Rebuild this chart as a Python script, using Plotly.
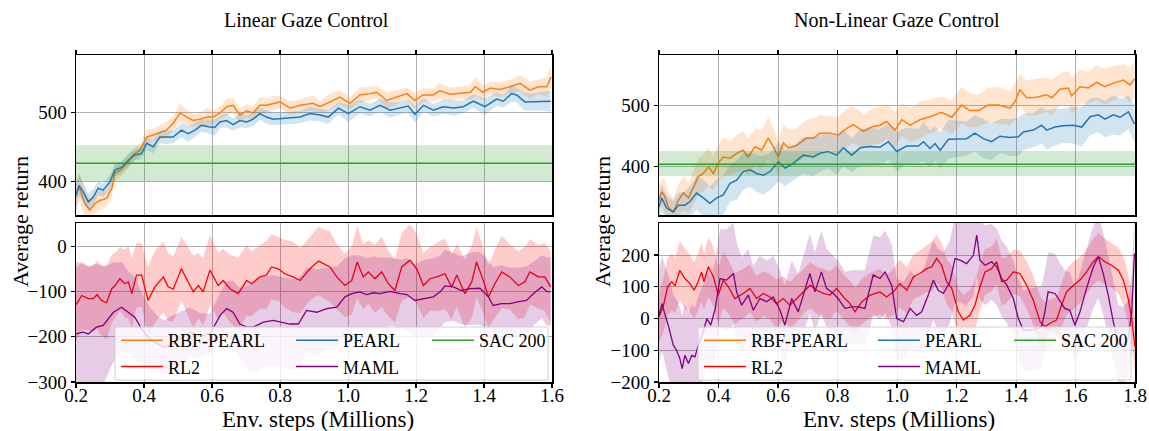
import plotly.graph_objects as go

# ---------------- data ----------------
# Linear Gaze Control, top panel
lo_x = [0.200,0.209,0.226,0.241,0.256,0.270,0.290,0.306,0.315,0.330,
        0.350,0.368,0.388,0.408,0.427,0.447,0.466,0.486,0.506,0.526,
        0.545,0.565,0.585,0.604,0.624,0.643,0.662,0.682,0.702,0.720,
        0.741,0.760,0.780,
        0.800,0.830,0.860,0.897,0.918,0.947,0.976,1.006,1.035,1.065,
        1.085,1.114,1.144,1.173,1.197,1.220,1.250,1.270,1.300,1.330,
        1.360,1.374,1.397,1.418,1.447,1.476,1.506,1.535,1.560,1.585,
        1.597]
lo_y = [377,392,368,358,368,372,375,391,412,416,
        426,438,445,464,467,471,474,484,499,493,
        488,490,493,493,499,508,510,496,502,499,
        510,510,513,
        515,506,510,513,508,515,522,513,525,527,
        529,517,522,527,517,525,525,531,526,528,
        529,537,529,535,533,537,542,532,537,537,
        551]
lo_s = [22,20,18,16,15,14,12,12,11,10,
        10,9,10,11,9,10,12,10,14,11,
        9,10,13,10,9,12,11,9,10,9,
        12,10,11,
        9,10,9,11,9,12,10,9,11,10,
        9,12,10,9,11,10,9,12,10,9,
        11,14,10,9,11,10,12,13,10,15,
        16]

lb_x = [0.200,0.209,0.221,0.236,0.251,0.265,0.280,0.300,0.314,0.334,
        0.353,0.373,0.393,0.408,0.427,0.447,0.466,0.486,0.510,0.530,
        0.550,0.569,0.589,0.608,0.623,0.643,0.662,0.682,0.702,0.721,
        0.741,0.760,0.780,
        0.859,0.888,0.918,0.942,0.972,1.001,1.035,1.065,1.094,1.124,
        1.153,1.177,1.197,1.222,1.251,1.280,1.310,1.339,1.369,1.403,
        1.437,1.457,1.481,1.496,1.520,1.545,1.575,1.596]
lb_y = [380,394,385,370,377,390,387,399,416,420,
        430,438,440,455,450,464,464,464,474,469,
        474,481,479,478,486,488,482,488,486,490,
        498,493,490,
        493,498,496,493,506,498,508,503,510,503,
        506,509,497,510,503,508,506,508,516,508,
        519,516,527,525,515,515,516,516]
lb_s = [18,16,14,12,12,10,10,10,9,9,
        9,8,8,9,10,9,10,9,10,12,
        10,9,10,12,9,10,9,10,9,10,
        9,10,9,
        9,10,9,10,9,12,10,9,10,11,
        9,10,12,10,9,10,11,9,10,12,
        10,9,12,11,13,12,14,15]

sac_l_x = [0.2, 1.6]
sac_l_y = [426, 426]
sac_l_lo = [400, 400]
sac_l_hi = [452, 452]

# Linear Gaze Control, bottom panel
lr_x = [0.200,0.217,0.236,0.251,0.262,0.275,0.290,0.305,0.315,0.329,
        0.344,0.354,0.364,0.378,0.393,0.412,0.432,0.457,0.471,0.486,
        0.510,0.525,0.545,0.560,0.574,0.594,0.618,0.633,0.653,0.677,
        0.702,0.716,0.741,0.760,0.775,0.795,0.814,0.839,0.859,
        0.888,0.913,0.947,0.967,0.991,1.011,1.027,1.045,1.060,1.079,
        1.099,1.119,1.138,1.158,1.182,1.202,1.222,1.241,1.261,1.285,
        1.305,1.320,1.344,1.364,1.378,1.398,1.413,1.432,1.452,1.476,
        1.501,1.520,1.535,1.560,1.579,1.596]
lr_y = [-130,-109,-116,-116,-107,-120,-125,-94,-87,-72,
        -83,-79,-105,-64,-64,-120,-90,-68,-90,-95,
        -50,-72,-101,-87,-101,-53,-87,-76,-94,-105,
        -76,-83,-68,-64,-46,-50,-61,-68,-76,
        -50,-33,-46,-68,-87,-76,-35,-68,-57,-72,
        -57,-83,-98,-46,-31,-50,-87,-72,-68,-61,
        -90,-64,-105,-79,-35,-76,-112,-83,-57,-68,
        -87,-79,-57,-68,-68,-90]
lr_s = [80,75,70,72,75,78,80,75,72,70,
        75,80,78,72,70,75,80,78,75,72,
        70,75,80,72,75,78,72,70,75,80,
        78,72,70,75,72,70,75,78,72,
        70,75,78,72,70,75,80,72,70,75,
        78,72,70,75,80,78,72,70,75,78,
        72,70,75,80,78,72,70,75,80,72,
        75,78,72,70,75,80]

lp_x = [0.200,0.221,0.236,0.260,0.280,0.310,0.334,0.354,0.373,0.393,
        0.417,0.442,0.461,0.476,0.506,0.535,0.565,0.594,0.624,0.643,
        0.662,0.682,0.702,0.721,0.751,0.780,
        0.829,0.854,0.878,0.908,0.937,0.967,0.991,1.011,1.035,1.055,
        1.075,1.094,1.124,1.153,1.173,1.197,1.222,1.251,1.271,1.285,
        1.310,1.334,1.359,1.388,1.413,1.427,1.452,1.476,1.506,1.525,
        1.545,1.570,1.584,1.596]
lp_y = [-194,-190,-194,-179,-175,-146,-135,-146,-157,-183,
        -205,-216,-224,-216,-205,-190,-198,-194,-153,-138,
        -146,-172,-179,-179,-168,-164,
        -172,-172,-142,-146,-138,-135,-112,-105,-101,-107,
        -103,-105,-100,-105,-107,-120,-116,-112,-101,-88,
        -90,-98,-94,-93,-112,-131,-127,-127,-122,-120,
        -105,-90,-100,-101]
lp_s = [160,150,150,140,130,110,100,90,90,80,
        70,60,60,60,60,55,50,45,50,60,
        70,80,90,100,100,100,
        100,100,95,95,90,90,85,85,80,80,
        80,80,75,75,80,80,85,85,80,80,
        75,75,80,80,80,85,85,80,75,75,
        70,70,75,75]

# Non-Linear Gaze Control, top panel
ro_x = [0.200,0.209,0.220,0.231,0.248,0.265,0.282,0.299,0.315,0.332,
        0.349,0.366,0.383,0.399,0.416,0.439,0.461,0.483,0.500,0.523,
        0.545,0.567,0.584,0.601,0.618,0.635,0.663,0.696,0.719,0.741,
        0.775,0.803,0.831,0.853,0.887,0.920,0.943,
        0.965,0.993,1.016,1.044,1.077,1.111,1.150,1.184,1.217,1.245,
        1.273,1.307,1.341,1.380,1.397,1.413,1.436,1.469,1.503,1.520,
        1.548,1.576,1.587,1.615,1.643,1.671,1.699,1.727,1.761,1.783,
        1.798]
ro_y = [345,359,351,334,326,345,357,349,365,384,
        389,400,389,406,416,414,422,427,416,433,
        427,447,433,416,439,431,435,447,447,455,
        455,452,463,469,458,466,468,
        474,460,477,468,477,482,489,481,501,492,
        492,501,501,496,507,526,513,514,518,513,
        527,529,516,531,529,538,531,537,542,534,
        544]
ro_s = [25,22,28,25,22,26,28,25,28,30,
        30,32,28,30,32,28,30,32,30,30,
        32,35,30,28,32,30,28,30,32,30,
        28,30,32,30,28,30,30,
        28,30,26,28,30,28,26,28,30,28,
        26,28,30,28,30,26,28,30,28,30,
        26,28,30,28,26,28,30,28,26,28,
        30]

rb_x = [0.200,0.209,0.226,0.248,0.265,0.287,0.304,0.326,0.349,0.371,
        0.394,0.416,0.439,0.461,0.483,0.506,0.528,0.551,0.573,0.601,
        0.624,0.652,0.685,0.719,0.741,0.769,0.797,0.820,0.848,0.876,
        0.910,0.943,
        0.971,0.999,1.032,1.072,1.089,1.111,1.128,1.145,1.173,1.201,
        1.234,1.262,1.290,1.318,1.346,1.380,1.408,1.425,1.458,1.486,
        1.503,1.531,1.559,1.593,1.621,1.649,1.677,1.699,1.727,1.750,
        1.778,1.798]
rb_y = [334,349,332,326,337,337,343,357,349,340,
        349,354,373,378,392,395,389,386,392,408,
        398,406,419,416,422,425,419,431,419,431,
        433,432,
        441,425,434,434,441,430,438,427,445,446,
        446,455,446,441,450,448,449,457,460,468,
        460,465,467,468,465,482,485,478,485,481,
        490,470]
rb_s = [20,22,20,18,20,22,25,28,30,28,
        30,32,30,32,30,28,30,32,30,32,
        30,28,30,32,30,28,32,30,28,30,
        32,30,
        30,32,30,28,32,30,28,30,32,30,
        28,30,32,30,28,30,32,30,28,30,
        32,30,28,30,32,30,28,30,32,30,
        28,30]

sac_r_x = [0.2, 1.8]
sac_r_y = [404, 404]
sac_r_lo = [385, 385]
sac_r_hi = [426, 426]

# Non-Linear Gaze Control, bottom panel
rr_x = [0.200,0.215,0.229,0.243,0.254,0.270,0.287,0.304,0.318,0.329,
        0.343,0.351,0.366,0.383,0.399,0.416,0.433,0.455,0.483,0.506,
        0.528,0.551,0.573,0.595,0.618,0.640,0.663,0.685,0.708,0.730,
        0.753,0.775,0.797,0.820,0.842,0.859,0.882,0.910,0.943,
        0.965,0.988,1.010,1.033,1.055,1.077,1.100,1.117,1.133,1.150,
        1.167,1.184,1.206,1.223,1.245,1.262,1.279,1.296,1.318,1.335,
        1.352,1.369,1.391,1.413,1.436,1.458,1.481,1.497,1.514,1.536,
        1.553,1.570,1.593,1.615,1.637,1.660,1.677,1.699,1.721,1.744,
        1.761,1.777,1.789,1.800]
rr_y = [5,42,100,116,103,152,126,110,89,110,
        147,116,163,131,74,121,100,63,79,95,
        63,79,68,47,63,42,63,84,105,89,
        79,74,95,68,47,21,53,74,84,
        68,84,110,89,131,142,157,163,189,168,
        116,95,21,-5,10,42,100,147,157,179,
        116,121,147,142,105,58,-10,-26,-15,-5,
        42,84,105,121,147,179,195,179,168,152,
        121,63,0,-89]
rr_s = [80,85,90,90,88,92,95,90,88,90,
        92,90,95,92,90,88,85,80,78,75,
        72,70,72,75,70,72,75,70,72,75,
        78,75,72,70,72,75,72,70,72,
        70,72,75,72,70,72,75,78,75,72,
        70,72,75,78,80,78,75,72,70,72,
        75,72,70,72,75,78,80,78,75,72,
        70,72,75,72,70,72,75,72,70,72,
        75,78,80,85]

rp_x = [0.200,0.210,0.221,0.231,0.248,0.259,0.270,0.278,0.287,0.299,
        0.310,0.321,0.332,0.347,0.361,0.374,0.389,0.405,0.427,0.450,
        0.461,0.478,0.500,0.517,0.539,0.562,0.584,0.607,0.623,0.646,
        0.668,0.690,0.707,0.724,0.746,0.763,0.786,0.802,0.825,0.847,
        0.869,0.892,0.920,0.943,
        0.960,0.982,0.999,1.022,1.044,1.066,1.083,1.105,1.122,1.139,
        1.156,1.178,1.195,1.212,1.234,1.257,1.268,1.279,1.296,1.318,
        1.335,1.352,1.369,1.391,1.408,1.425,1.447,1.470,1.486,1.497,
        1.508,1.531,1.548,1.564,1.581,1.598,1.615,1.637,1.660,1.677,
        1.693,1.710,1.727,1.744,1.761,1.777,1.789,1.798]
rp_y = [10,47,10,-21,-84,-100,-126,-158,-116,-142,
        -116,-121,-84,-47,0,-21,32,126,121,142,
        84,42,74,26,63,53,68,26,-21,63,
        21,89,142,84,147,95,79,63,32,37,
        37,32,137,126,
        147,105,0,-10,32,10,21,74,121,89,
        79,116,189,184,173,200,263,184,168,179,
        163,126,105,63,0,-37,-37,-32,-26,21,
        84,79,53,32,26,-21,21,95,163,195,
        142,74,-10,-79,-84,-63,21,205]
rp_s = [150,150,155,160,160,160,165,165,160,160,
        160,155,155,150,150,150,150,155,160,160,
        155,150,145,140,135,130,130,125,125,120,
        120,120,125,125,130,125,120,120,115,115,
        115,120,125,130,
        130,130,125,125,120,120,120,125,125,130,
        130,130,135,135,130,130,130,125,125,120,
        120,120,120,120,125,125,130,130,130,130,
        125,125,120,120,120,120,125,125,130,130,
        130,125,125,120,120,120,120,120]

series_names = ["RBF-PEARL", "RL2", "PEARL", "MAML", "SAC 200"]
x_ticks_left = [0.2, 0.4, 0.6, 0.8, 1.0, 1.2, 1.4, 1.6]
x_ticks_right = [0.2, 0.4, 0.6, 0.8, 1.0, 1.2, 1.4, 1.6, 1.8]

# ---------------- styling ----------------
C_OR = "#ff7f0e"; C_BL = "#1f77b4"; C_GR = "#2ca02c"; C_RD = "#ff0000"; C_PU = "#800080"
F_OR = "rgba(255,127,14,0.2)"; F_BL = "rgba(31,119,180,0.2)"; F_GR = "rgba(44,160,44,0.22)"
F_RD = "rgba(255,0,0,0.2)"; F_PU = "rgba(128,0,128,0.2)"
FONT = "Liberation Serif"
W, H = 1149, 431

fig = go.Figure()


def add_band(xa, ya, x, lo, hi, fill):
    fig.add_trace(go.Scatter(x=x, y=hi, xaxis=xa, yaxis=ya, mode="lines",
                             line=dict(width=0), showlegend=False, hoverinfo="skip"))
    fig.add_trace(go.Scatter(x=x, y=lo, xaxis=xa, yaxis=ya, mode="lines",
                             line=dict(width=0), fill="tonexty", fillcolor=fill,
                             showlegend=False, hoverinfo="skip"))


def add_series(xa, ya, x, y, s, color, fill, width=1.5):
    hi = [a + b for a, b in zip(y, s)]
    lo = [a - b for a, b in zip(y, s)]
    add_band(xa, ya, x, lo, hi, fill)
    fig.add_trace(go.Scatter(x=x, y=y, xaxis=xa, yaxis=ya, mode="lines",
                             line=dict(color=color, width=width), showlegend=False))


# left column
add_series("x", "y", lo_x, lo_y, lo_s, C_OR, F_OR)
add_series("x", "y", lb_x, lb_y, lb_s, C_BL, F_BL)
add_band("x", "y", sac_l_x, sac_l_lo, sac_l_hi, F_GR)
fig.add_trace(go.Scatter(x=sac_l_x, y=sac_l_y, xaxis="x", yaxis="y", mode="lines",
                         line=dict(color=C_GR, width=1.5), showlegend=False))
add_series("x2", "y2", lr_x, lr_y, lr_s, C_RD, F_RD, 1.3)
add_series("x2", "y2", lp_x, lp_y, lp_s, C_PU, F_PU, 1.3)

# right column
add_series("x3", "y3", ro_x, ro_y, ro_s, C_OR, F_OR)
add_series("x3", "y3", rb_x, rb_y, rb_s, C_BL, F_BL)
add_band("x3", "y3", sac_r_x, sac_r_lo, sac_r_hi, F_GR)
fig.add_trace(go.Scatter(x=sac_r_x, y=sac_r_y, xaxis="x3", yaxis="y3", mode="lines",
                         line=dict(color=C_GR, width=1.5), showlegend=False))
add_series("x4", "y4", rr_x, rr_y, rr_s, C_RD, F_RD, 1.3)
add_series("x4", "y4", rp_x, rp_y, rp_s, C_PU, F_PU, 1.3)

# legend entries (three columns per panel)
leg_colors = {"RBF-PEARL": C_OR, "RL2": C_RD, "PEARL": C_BL, "MAML": C_PU, "SAC 200": C_GR}
col_of = {"RBF-PEARL": 0, "RL2": 0, "PEARL": 1, "MAML": 1, "SAC 200": 2}
for side, (xa, ya, base) in enumerate([("x2", "y2", 1), ("x4", "y4", 4)]):
    for rank, name in enumerate(series_names):
        lg = "legend" if base + col_of[name] == 1 else "legend%d" % (base + col_of[name])
        fig.add_trace(go.Scatter(x=[None], y=[None], xaxis=xa, yaxis=ya, mode="lines",
                                 name=name, line=dict(color=leg_colors[name], width=1.5),
                                 legend=lg, legendrank=rank + 1, showlegend=True))


def px_x(p):
    return p / W


def px_y(p):
    return 1 - p / H


LX = [px_x(76), px_x(552)]
RX = [px_x(659), px_x(1135)]
TOPY = [px_y(215), px_y(55)]
BOTY = [px_y(382), px_y(223)]

grid = "#b0b0b0"
common_ax = dict(showline=True, linecolor="black", linewidth=1.5, mirror=True,
                 ticks="outside", ticklen=4, tickwidth=1.2, tickcolor="black",
                 showgrid=True, gridcolor=grid, gridwidth=1, zeroline=False,
                 automargin=False,
                 tickfont=dict(family=FONT, size=19, color="black"))

layout_axes = dict(
    xaxis=dict(domain=LX, anchor="y", range=[0.2, 1.6], tickvals=x_ticks_left,
               side="top", showticklabels=False, **common_ax),
    yaxis=dict(domain=TOPY, anchor="x", range=[351, 583], tickvals=[400, 500], **common_ax),
    xaxis2=dict(domain=LX, anchor="y2", range=[0.2, 1.6], tickvals=x_ticks_left,
                tickformat=".1f", ticklabelstandoff=-8, **common_ax),
    yaxis2=dict(domain=BOTY, anchor="x2", range=[-300, 51],
                tickvals=[-300, -200, -100, 0], **common_ax),
    xaxis3=dict(domain=RX, anchor="y3", range=[0.2, 1.8], tickvals=x_ticks_right,
                side="top", showticklabels=False, **common_ax),
    yaxis3=dict(domain=TOPY, anchor="x3", range=[321, 583], tickvals=[400, 500], **common_ax),
    xaxis4=dict(domain=RX, anchor="y4", range=[0.2, 1.8], tickvals=x_ticks_right,
                tickformat=".1f", ticklabelstandoff=-8, **common_ax),
    yaxis4=dict(domain=BOTY, anchor="x4", range=[-200, 301],
                tickvals=[-200, -100, 0, 100, 200], **common_ax),
)

leg_common = dict(xanchor="left", yanchor="top", bgcolor="rgba(0,0,0,0)",
                  font=dict(family=FONT, size=18, color="black"),
                  tracegroupgap=0, itemwidth=42, orientation="v", borderwidth=0,
                  traceorder="normal")
leg_y = px_y(322)
legends = {
    "legend": dict(x=px_x(116), y=leg_y, **leg_common),
    "legend2": dict(x=px_x(291), y=leg_y, **leg_common),
    "legend3": dict(x=px_x(427), y=leg_y, **leg_common),
    "legend4": dict(x=px_x(699), y=leg_y, **leg_common),
    "legend5": dict(x=px_x(873), y=leg_y, **leg_common),
    "legend6": dict(x=px_x(1009), y=leg_y, **leg_common),
}

shapes = [
    dict(type="rect", xref="paper", yref="paper", x0=px_x(115), x1=px_x(548),
         y0=px_y(380), y1=px_y(327), fillcolor="rgba(255,255,255,0.8)",
         line=dict(color="#d0d0d0", width=1), layer="above"),
    dict(type="rect", xref="paper", yref="paper", x0=px_x(698), x1=px_x(1131),
         y0=px_y(380), y1=px_y(327), fillcolor="rgba(255,255,255,0.8)",
         line=dict(color="#d0d0d0", width=1), layer="above"),
]

ann_font_t = dict(family=FONT, size=20, color="black")
ann_font_l = dict(family=FONT, size=22, color="black")
ann_font_x = dict(family=FONT, size=23, color="black")
annotations = [
    dict(text="Linear Gaze Control", x=px_x(306), y=px_y(20), xref="paper", yref="paper",
         showarrow=False, xanchor="center", yanchor="middle", font=ann_font_t),
    dict(text="Non-Linear Gaze Control", x=px_x(897), y=px_y(20), xref="paper", yref="paper",
         showarrow=False, xanchor="center", yanchor="middle", font=ann_font_t),
    dict(text="Env. steps (Millions)", x=px_x(318), y=px_y(419), xref="paper", yref="paper",
         showarrow=False, xanchor="center", yanchor="middle", font=ann_font_x),
    dict(text="Env. steps (Millions)", x=px_x(899), y=px_y(419), xref="paper", yref="paper",
         showarrow=False, xanchor="center", yanchor="middle", font=ann_font_x),
    dict(text="Average return", x=px_x(21), y=px_y(222), xref="paper", yref="paper",
         showarrow=False, xanchor="center", yanchor="middle", textangle=-90, font=ann_font_l),
    dict(text="Average return", x=px_x(603), y=px_y(222), xref="paper", yref="paper",
         showarrow=False, xanchor="center", yanchor="middle", textangle=-90, font=ann_font_l),
]

fig.update_layout(
    width=W, height=H, margin=dict(l=0, r=0, t=0, b=0, pad=0, autoexpand=False),
    paper_bgcolor="white", plot_bgcolor="white",
    font=dict(family=FONT, size=17, color="black"),
    shapes=shapes, annotations=annotations, hovermode=False,
    **layout_axes, **legends,
)

fig.write_html(
    "out.html",
    config={"displayModeBar": False, "staticPlot": True},
    post_script=("document.documentElement.style.margin='0';"
                 "document.documentElement.style.overflow='hidden';"
                 "document.body.style.margin='0';"
                 "document.body.style.padding='0';"
                 "document.body.style.overflow='hidden';"),
)
